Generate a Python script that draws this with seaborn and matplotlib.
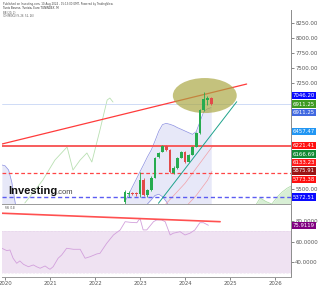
import numpy as np
import matplotlib
matplotlib.use("Agg")
import matplotlib.pyplot as plt
from matplotlib.patches import Ellipse
from matplotlib.transforms import blended_transform_factory
import seaborn as sns

# ---------------- data ----------------
months = ["2022-09", "2022-10", "2022-11", "2022-12", "2023-01", "2023-02",
          "2023-03", "2023-04", "2023-05", "2023-06", "2023-07", "2023-08",
          "2023-09", "2023-10", "2023-11", "2023-12", "2024-01", "2024-02",
          "2024-03", "2024-04", "2024-05", "2024-06", "2024-07", "2024-08"]
opens = [5287, 5430, 5440, 5435, 5419, 5655, 5408, 5490, 5694, 6040, 6123, 6216,
         6150, 5765, 5859, 6024, 6123, 5958, 6068, 6206, 6426, 6810, 6980, 7003]
highs = [5490, 5474, 5460, 5455, 5782, 5680, 5510, 5720, 6040, 6120, 6235, 6225,
         6160, 5880, 6040, 6140, 6135, 6080, 6220, 6440, 6830, 7102, 7046, 7020]
lows = [5250, 5380, 5400, 5395, 5380, 5390, 5380, 5470, 5680, 6010, 6110, 6140,
        5770, 5750, 5840, 6010, 5940, 5945, 6060, 6195, 6410, 6790, 6893, 6900]
closes = [5452, 5440, 5430, 5420, 5655, 5408, 5490, 5694, 6024, 6095, 6216, 6150,
          5782, 5859, 6024, 6123, 5958, 6068, 6206, 6426, 6810, 6992, 7003, 6911.25]

bb_upper = [5298, 5419, 5545, 5667, 5793, 5914, 6040, 6150, 6300, 6460, 6570, 6590,
            6574, 6552, 6519, 6492, 6464, 6436, 6409, 6453, 6618, 6783, 6830, 6850]
bb_lower = [4950, 4930, 4960, 5020, 5100, 5180, 5260, 5330, 5400, 5420, 5380, 5300,
            5200, 5100, 5050, 5000, 4980, 4970, 4960, 4950, 4940, 4930, 4920, 4910]
bb_early_dates = [2019.93, 2020.0, 2020.08, 2020.15, 2020.2, 2020.23]
bb_early_upper = [5903, 5890, 5820, 5620, 5400, 5260]
bb_early_lower = [4800, 4800, 4800, 4800, 4800, 4800]

basis_dates = [2023.5, 2023.75, 2024.0, 2024.25, 2024.5, 2024.6]
basis_vals = [5200, 5400, 5600, 5850, 6100, 6200]
ma2_dates = [2024.0, 2024.25, 2024.5, 2024.6]
ma2_vals = [5200, 5400, 5650, 5800]

lag_dates = [2020.44, 2020.62, 2020.84, 2021.11, 2021.38, 2021.51, 2021.67,
             2021.82, 2021.93, 2022.11, 2022.27, 2022.33, 2022.40]
lag_vals = [5276, 5441, 5655, 5985, 6200, 5820, 5985, 6101, 5952, 6480, 6975,
            7008, 6942]
cloud_dates = [2025.56, 2025.67, 2025.8, 2025.93, 2026.05, 2026.16, 2026.27, 2026.36]
cloud_vals = [5226, 5358, 5300, 5259, 5375, 5457, 5520, 5556]

h_levels = {"res": 6221.41, "dash_red": 5773.38, "dash_blue": 5372.51, "thin": 6911.25}
trend_red = ([2019.93, 2025.37], [6249, 7239])
trend_teal = ([2023.41, 2025.15], [5271, 6947])
ellipse_center = (2024.44, 7049)
ellipse_size = (1.42, 578)

price_labels = [7046.20, 6911.25, 6911.25, 6457.47, 6221.41, 6166.69, 6133.23,
                5875.91, 5773.38, 5372.51]
price_label_colors = ["#0a0aff", "#3d9a22", "#4169e1", "#2196f3", "#ff1010",
                      "#118a34", "#ff1a1a", "#9a1414", "#ff1010", "#0a0aff"]
price_ticks = [5500, 7250, 7500, 7750, 8000, 8250]

rsi_dates = [2019.93, 2020.04, 2020.11, 2020.18, 2020.26, 2020.33, 2020.41, 2020.52,
             2020.63, 2020.70, 2020.78, 2020.89, 2020.96, 2021.0, 2021.07, 2021.18,
             2021.26, 2021.37, 2021.52, 2021.67, 2021.78, 2021.89, 2022.04, 2022.11,
             2022.26, 2022.41, 2022.56, 2022.67, 2022.78, 2022.93, 2023.0, 2023.07,
             2023.15, 2023.30, 2023.37, 2023.48, 2023.56, 2023.67, 2023.74, 2023.89,
             2024.0, 2024.11, 2024.22, 2024.33, 2024.41, 2024.52]
rsi_vals = [53.6, 51.3, 51.9, 43.9, 39.0, 41.3, 38.0, 35.7, 37.4, 35.7, 34.2, 36.4,
            34.2, 33.2, 35.7, 43.9, 47.1, 53.6, 52.6, 52.6, 43.9, 45.4, 48.1, 48.7,
            58.4, 66.5, 71.4, 79.4, 78.8, 78.4, 82.7, 71.4, 71.4, 79.4, 81.1, 81.1,
            79.4, 66.5, 68.2, 69.7, 66.5, 68.2, 71.4, 78.4, 78.4, 75.91]
rsi_trend = ([2019.93, 2024.78], [87.6, 79.4])
rsi_last = 75.9119
rsi_ticks = [40, 60, 80]
year_ticks = [2020, 2021, 2022, 2023, 2024, 2025, 2026]

# ---------------- figure ----------------
sns.set_theme(style="white")
plt.rcParams["font.family"] = ["DejaVu Sans"]

W, H = 320, 288
fig = plt.figure(figsize=(W / 100, H / 100), dpi=100)
fig.patch.set_facecolor("white")
ax = fig.add_axes([2 / W, 1 - 204 / H, 289 / W, 194 / H])
axr = fig.add_axes([2 / W, 1 - 277 / H, 289 / W, 72 / H], sharex=ax)

XL = (2019.933, 2026.356)
ax.set_xlim(*XL)
ax.set_ylim(5259, 8461)
axr.set_ylim(25.7, 95.6)

def to_year(s):
    y, m = s.split("-")
    return int(y) + (int(m) - 1) / 12

dates = np.array([to_year(m) for m in months])
o = np.array(opens); c = np.array(closes); hi = np.array(highs); lo = np.array(lows)

# Bollinger bands
ax.fill_between(dates, bb_lower, bb_upper, color="#8a8ee0", alpha=0.2, lw=0, zorder=1)
ax.plot(dates, bb_upper, color="#8a8ee0", lw=0.5, zorder=1.2)
ax.plot(dates, bb_lower, color="#8a8ee0", lw=0.5, zorder=1.2)
ax.fill_between(bb_early_dates, bb_early_lower, bb_early_upper, color="#8a8ee0",
                alpha=0.2, lw=0, zorder=1)
ax.plot(bb_early_dates, bb_early_upper, color="#8a8ee0", lw=0.5, zorder=1.2)
ax.plot(basis_dates, basis_vals, color="#f2a0a8", lw=0.5, zorder=1.3)
ax.plot(ma2_dates, ma2_vals, color="#f2a0a8", lw=0.5, zorder=1.3)

# light green lines / cloud
sns.lineplot(x=lag_dates, y=lag_vals, ax=ax, color="#b9e0b2", lw=0.6, sort=False,
             zorder=1.3)
ax.fill_between(cloud_dates, 5200, cloud_vals, color="#cfeccb", alpha=0.8, lw=0, zorder=1)
ax.plot(cloud_dates, cloud_vals, color="#a8d8a0", lw=0.5, zorder=1.2)

# horizontal levels
ax.axhline(h_levels["thin"], color="#c8d6f5", lw=0.6, zorder=1.4)
ax.axhline(h_levels["res"], color="#f75c5c", lw=1.4, zorder=1.5)
ax.axhline(h_levels["dash_red"], color="#ff4545", lw=0.9, ls=(0, (3, 2)), zorder=1.5)
ax.axhline(h_levels["dash_blue"], color="#5c5cf2", lw=1.0, ls=(0, (3, 2)), zorder=1.5)

# trend lines
ax.plot(*trend_red, color="#ff3b3b", lw=0.9, zorder=1.6)
ax.plot(*trend_teal, color="#1fa38c", lw=0.7, zorder=1.6)

# ellipse
ax.add_patch(Ellipse(ellipse_center, ellipse_size[0], ellipse_size[1],
                     facecolor="#a9a640", alpha=0.68, lw=0, zorder=2))

# candles
up = c >= o
cols = np.where(up, "#27ab4f", "#e24a4a")
ax.vlines(dates, lo, hi, colors=cols, lw=0.6, zorder=3)
body_h = np.maximum(np.abs(c - o), 10)
ax.bar(dates, body_h, bottom=np.minimum(o, c), width=0.062, color=cols, lw=0, zorder=3.1)

# axes styling - main
for s in ["top", "left"]:
    ax.spines[s].set_visible(False)
    axr.spines[s].set_visible(False)
for a in (ax, axr):
    a.spines["right"].set_color("#8c8c8c")
    a.spines["right"].set_linewidth(0.7)
    a.spines["bottom"].set_color("#9a9a9a")
    a.spines["bottom"].set_linewidth(0.7)
    a.grid(False)
    a.set_facecolor("none")
ax.yaxis.tick_right()
ax.set_yticks(price_ticks)
ax.set_yticklabels([f"{v:.2f}" for v in price_ticks])
ax.tick_params(axis="y", labelsize=3.9, colors="#555555", length=2, width=0.5, pad=1,
               direction="out", right=True, left=False)
ax.tick_params(axis="x", bottom=False, labelbottom=False)

# stacked price labels
fig.canvas.draw()
spacing = 8.4
tr = ax.transData
yp_prev = None
bt = blended_transform_factory(ax.transAxes, ax.transData)
for val, col in zip(price_labels, price_label_colors):
    yp = tr.transform((XL[0], val))[1]
    if yp_prev is not None and yp > yp_prev - spacing:
        yp = yp_prev - spacing
    yp_prev = yp
    ydata = tr.inverted().transform((0, yp))[1]
    ax.text(1.006, ydata, f"{val:.2f}", transform=bt, fontsize=3.9, color="white",
            ha="left", va="center", zorder=10, clip_on=False,
            bbox=dict(boxstyle="square,pad=0.22", facecolor=col, edgecolor="none"))

# RSI pane
axr.axhspan(30, 70, color="#efe2f2", lw=0, zorder=0.5)
axr.axhline(70, color="#dcc8e2", lw=0.4, ls=(0, (1, 1.5)), zorder=0.6)
axr.axhline(30, color="#dcc8e2", lw=0.4, ls=(0, (1, 1.5)), zorder=0.6)
sns.lineplot(x=rsi_dates, y=rsi_vals, ax=axr, color="#d2a0dc", lw=0.6, sort=False,
             zorder=2)
axr.plot(*rsi_trend, color="#ff5050", lw=1.2, zorder=3)
axr.yaxis.tick_right()
axr.set_yticks(rsi_ticks)
axr.set_yticklabels([f"{v:.4f}" for v in rsi_ticks])
axr.tick_params(axis="y", labelsize=3.9, colors="#555555", length=2, width=0.5, pad=1,
                right=True, left=False)
axr.set_xticks(year_ticks)
axr.set_xticklabels([str(y) for y in year_ticks])
axr.tick_params(axis="x", labelsize=3.9, colors="#555555", length=2, width=0.5, pad=1,
                bottom=True)
axr.set_xlim(*XL)
axr.set_xlabel(""); axr.set_ylabel(""); ax.set_xlabel(""); ax.set_ylabel("")
brt = blended_transform_factory(axr.transAxes, axr.transData)
axr.text(1.006, rsi_last, f"{rsi_last:.4f}", transform=brt, fontsize=3.9, color="white",
         ha="left", va="center", zorder=10, clip_on=False,
         bbox=dict(boxstyle="square,pad=0.22", facecolor="#800080", edgecolor="none"))
axr.text(3 / 289, 0.985, "RSI (14)", transform=axr.transAxes, fontsize=1.9,
         color="#555555", ha="left", va="top")

# header texts
fig.text(3 / W, 1 - 4 / H, "Published on Investing.com, 10-Aug-2024 - 15:13:00 GMT, Powered by TradingView.",
         fontsize=1.9, color="#444444", ha="left", va="center")
fig.text(3 / W, 1 - 8 / H, "Tunis Bourse, Tunisia, Euro TUNINDEX, M",
         fontsize=2.0, color="#333333", ha="left", va="center")
fig.text(3 / W, 1 - 12.7 / H, "BB (20, 2)", fontsize=1.8, color="#555555",
         ha="left", va="center")
fig.text(3 / W, 1 - 15.7 / H, "ICHIMOKU (9, 26, 52, 26)", fontsize=1.8,
         color="#555555", ha="left", va="center")

# watermark
fig.text(8 / W, 1 - 194 / H, "Investing", fontsize=8, fontweight="bold",
         family="Liberation Sans", color="#111111", ha="left", va="baseline", zorder=20)
fig.text(56.5 / W, 1 - 194 / H, ".com", fontsize=5.5, family="Liberation Sans",
         color="#444444", ha="left", va="baseline", zorder=20)

fig.savefig("out.png", dpi=100, facecolor="white")
